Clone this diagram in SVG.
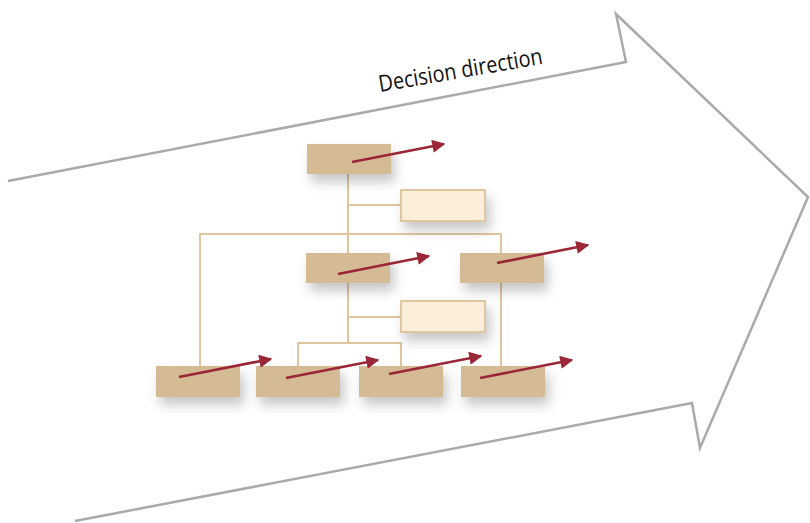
<svg xmlns="http://www.w3.org/2000/svg" width="810" height="523" viewBox="0 0 810 523">
  <style>
    .frame { fill: none; stroke: #aaaaaa; stroke-width: 2.5; stroke-linejoin: miter; }
    .node { fill: #d4bb94; }
    .note { fill: #fbefdb; stroke: #dfc69f; stroke-width: 2; }
    .link { fill: none; stroke: #dfc69f; stroke-width: 2; }
    .flow { fill: none; stroke: #9b2638; stroke-width: 2.6; }
    .label { font-family: "Open Sans", "Liberation Sans", sans-serif; font-size: 23px; font-weight: 500; fill: #111111; }
  </style>
  <defs>
    <filter id="shadow" x="-30%" y="-40%" width="170%" height="220%">
      <feDropShadow dx="4" dy="8" stdDeviation="6" flood-color="#000" flood-opacity="0.22"/>
    </filter>
    <marker id="head" viewBox="0 0 10 10" refX="9" refY="5" markerWidth="6" markerHeight="5" orient="auto" markerUnits="strokeWidth">
      <path d="M0,0 L10,5 L0,10 z" fill="#9b2638"/>
    </marker>
  </defs>

  <!-- big direction arrow -->
  <path class="frame" d="M8,181 L626,62 L616,14 L808,197 L700,448 L692,403 L75,521"/>
  <text class="label" transform="translate(380,92) rotate(-9.8)" textLength="166" lengthAdjust="spacingAndGlyphs">Decision direction</text>

  <!-- connectors -->
  <g id="connectors">
    <path class="link" d="M348,174 V343"/>
    <path class="link" d="M348,205 H401"/>
    <path class="link" d="M348,317 H401"/>
    <path class="link" d="M200,366 V234 H501 V366"/>
    <path class="link" d="M298,366 V343 H401 V366"/>
  </g>

  <!-- nodes -->
  <g id="n-top"><rect class="node" x="307" y="144" width="84" height="30" filter="url(#shadow)"/></g>
  <g id="n-note1"><rect class="note" x="401" y="190" width="84" height="31" filter="url(#shadow)"/></g>
  <g id="n-mid"><rect class="node" x="306" y="253" width="84" height="30" filter="url(#shadow)"/></g>
  <g id="n-right"><rect class="node" x="460" y="253" width="84" height="30" filter="url(#shadow)"/></g>
  <g id="n-note2"><rect class="note" x="401" y="301" width="84" height="31" filter="url(#shadow)"/></g>
  <g id="n-b1"><rect class="node" x="156" y="366" width="84" height="31" filter="url(#shadow)"/></g>
  <g id="n-b2"><rect class="node" x="256" y="366" width="84" height="31" filter="url(#shadow)"/></g>
  <g id="n-b3"><rect class="node" x="359" y="366" width="84" height="31" filter="url(#shadow)"/></g>
  <g id="n-b4"><rect class="node" x="461" y="366" width="84" height="31" filter="url(#shadow)"/></g>

  <!-- decision flow arrows -->
  <g id="flows">
    <path class="flow" d="M352,162 L444,144" marker-end="url(#head)"/>
    <path class="flow" d="M338,274 L429,256" marker-end="url(#head)"/>
    <path class="flow" d="M497,263 L588,245" marker-end="url(#head)"/>
    <path class="flow" d="M179,377 L271,359" marker-end="url(#head)"/>
    <path class="flow" d="M286,378 L378,360" marker-end="url(#head)"/>
    <path class="flow" d="M389,374 L481,356" marker-end="url(#head)"/>
    <path class="flow" d="M480,378 L572,360" marker-end="url(#head)"/>
  </g>
</svg>
